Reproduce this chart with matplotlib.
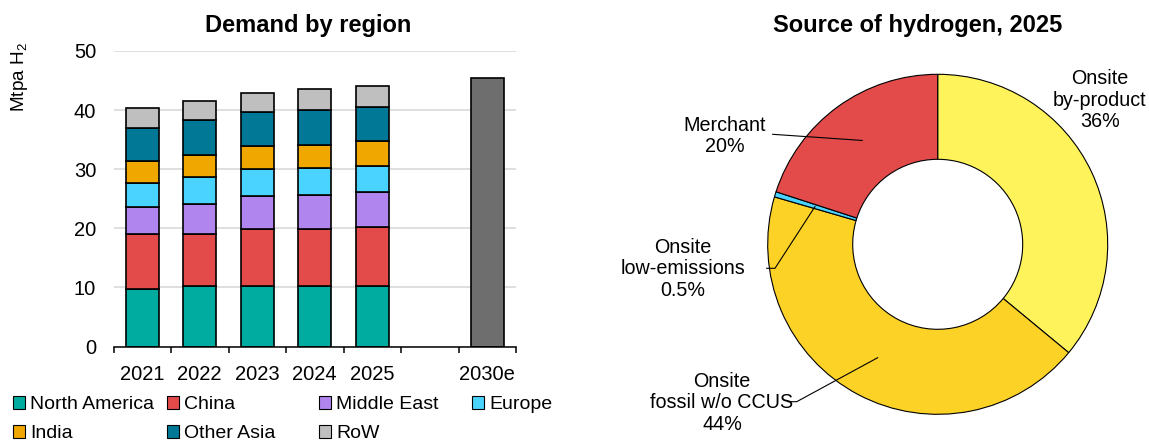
import numpy as np
import matplotlib.pyplot as plt
from matplotlib.patches import Patch

plt.rcParams['font.family'] = ['Liberation Sans', 'DejaVu Sans']
plt.rcParams['mathtext.fontset'] = 'custom'
plt.rcParams['mathtext.rm'] = 'Liberation Sans'

# --- data: demand by region (Mtpa H2) ---
years = ['2021', '2022', '2023', '2024', '2025', '', '2030e']
regions = ['North America', 'China', 'Middle East', 'Europe', 'India', 'Other Asia', 'RoW']
north_america = [9.8, 10.3, 10.2, 10.2, 10.2]
china = [9.2, 8.7, 9.7, 9.7, 10.0]
middle_east = [4.6, 5.1, 5.6, 5.8, 6.0]
europe = [4.1, 4.5, 4.5, 4.5, 4.3]
india = [3.7, 3.8, 3.9, 3.9, 4.2]
other_asia = [5.6, 6.0, 5.8, 6.0, 5.8]
row = [3.3, 3.2, 3.2, 3.4, 3.6]
total_2030 = 45.5
region_colors = ['#00ab9f', '#e34b4b', '#b085ee', '#4bd3ff', '#f0a800', '#007896', '#bfbfbf']

# --- data: source of hydrogen 2025 (%) ---
sources = ['Onsite\nby-product', 'Onsite\nfossil w/o CCUS', 'Onsite\nlow-emissions', 'Merchant']
shares = [36, 43.5, 0.5, 20]
share_labels = ['36%', '44%', '0.5%', '20%']
source_colors = ['#fff35c', '#fdd227', '#4bd3ff', '#e34b4b']

W, H = 1149, 441
fig = plt.figure(figsize=(W / 100, H / 100), dpi=100)

# ---------------- bar chart ----------------
ax = fig.add_axes([113.5 / W, 1 - 346.5 / H, (516 - 113.5) / W, (346.5 - 51) / H])
series = [north_america, china, middle_east, europe, india, other_asia, row]
x = np.arange(5)
bottom = np.zeros(5)
for vals, col in zip(series, region_colors):
    ax.bar(x, vals, 0.57, bottom=bottom, color=col, edgecolor='black', linewidth=1.2, zorder=3)
    bottom += np.array(vals)
ax.bar(6, total_2030, 0.57, color='#6d6e6d', edgecolor='black', linewidth=1.2, zorder=3)

ax.set_xlim(-0.5, 6.5)
ax.set_ylim(0, 50)
ax.set_yticks(range(0, 51, 10))
ax.tick_params(axis='y', length=0, pad=12.5, labelsize=14.5)
ax.set_xticks(np.arange(-0.5, 7, 1))
ax.set_xticklabels([])
ax.tick_params(axis='x', which='major', length=4.5, width=1.1, direction='out')
ax.set_xticks(np.arange(7), minor=True)
ax.set_xticklabels(years, minor=True)
ax.tick_params(axis='x', which='minor', length=0, pad=13.5, labelsize=14.5)
ax.grid(axis='y', color='#d9d9d9', linewidth=1.2, zorder=0)
for s in ['left', 'right', 'top']:
    ax.spines[s].set_visible(False)
ax.spines['bottom'].set_linewidth(1.1)
ax.spines['bottom'].set_zorder(4)
fig.text(308.5 / W, 1 - 32 / H, 'Demand by region', ha='center', va='baseline',
         fontsize=17, fontweight='bold')
fig.text(20 / W, 1 - 77 / H, r'Mtpa H$_\mathregular{2}$', rotation=90,
         ha='center', va='center', fontsize=13.7)

# legend: fixed equal-width columns like the original
col_x = [13, 167, 319, 472]
for j, lx in enumerate(col_x):
    idx = [k for k in (j, j + 4) if k < len(regions)]
    handles = [Patch(facecolor=region_colors[k], edgecolor='black', linewidth=0.8) for k in idx]
    fig.legend(handles, [regions[k] for k in idx], loc='upper left',
               bbox_to_anchor=(lx / W, 1 - 396 / H), frameon=False,
               fontsize=14, handlelength=0.62, handleheight=0.62,
               handletextpad=0.25, labelspacing=0.62, borderpad=0, borderaxespad=0)

# ---------------- donut ----------------
cx, cy, r = 937.7, 244.3, 170
side = 440
ax2 = fig.add_axes([(cx - side / 2) / W, (H - cy - side / 2) / H, side / W, side / H])
wedges, _ = ax2.pie(shares, colors=source_colors, startangle=90, counterclock=False,
                    radius=1, wedgeprops=dict(width=0.5, edgecolor='black', linewidth=0.8))
lim = side / 2 / r
ax2.set_xlim(-lim, lim)
ax2.set_ylim(-lim, lim)
ax2.set_aspect('equal')
ax2.axis('off')

# label text anchor (pixels) and optional elbow start for leader lines
label_px = [(1100, 100), (722, 403), (683, 269), (724.5, 136)]
leader_px = [None, [(788, 401.7), (796.7, 401.7)], [(766.7, 268.3), (775, 268.3)], [(772.7, 134.3)]]
for w, name, pct, (lx, ly), lead in zip(wedges, sources, share_labels, label_px, leader_px):
    ax2.text((lx - cx) / r, (cy - ly) / r, name + '\n' + pct, ha='center', va='center',
             fontsize=14.2, linespacing=1.15)
    if lead is None:
        continue
    mid = np.deg2rad((w.theta1 + w.theta2) / 2)
    pts = [((px - cx) / r, (cy - py) / r) for px, py in lead]
    pts.append((0.755 * np.cos(mid), 0.755 * np.sin(mid)))
    xs, ys = zip(*pts)
    ax2.plot(xs, ys, color='black', linewidth=0.8, clip_on=False)

fig.text(918 / W, 1 - 32 / H, 'Source of hydrogen, 2025', ha='center', va='baseline',
         fontsize=17, fontweight='bold')

fig.savefig('out.png', dpi=100)
